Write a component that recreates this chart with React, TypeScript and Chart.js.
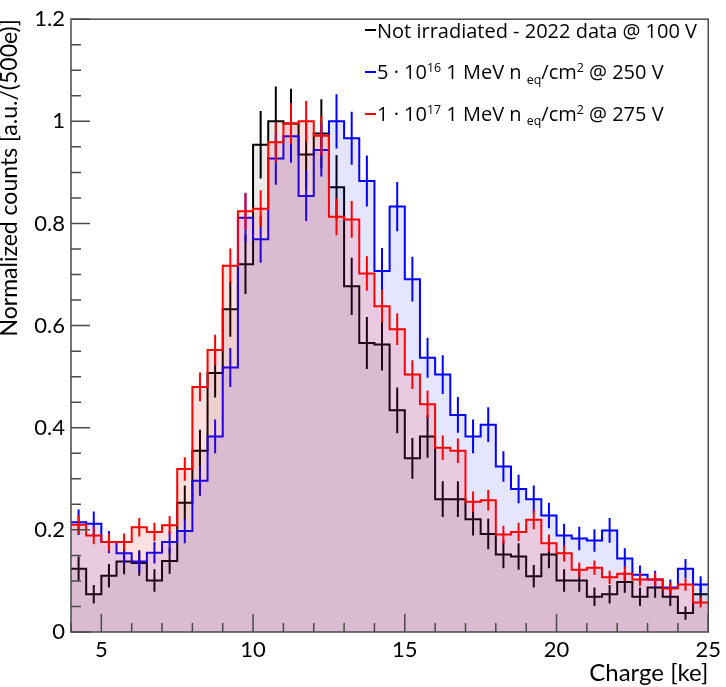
import { useEffect, useRef } from 'react';
import { Chart, registerables } from 'chart.js';
import type { Plugin } from 'chart.js';

Chart.register(...registerables);

// bin edges in ke (500 e bins)
const BIN_EDGES = [
  4, 4.5, 5, 5.5, 6, 6.5, 7, 7.5, 8, 8.5, 9, 9.5, 10, 10.5, 11, 11.5, 12, 12.5, 13, 13.5, 14, 14.5,
  15, 15.5, 16, 16.5, 17, 17.5, 18, 18.5, 19, 19.5, 20, 20.5, 21, 21.5, 22, 22.5, 23, 23.5, 24, 24.5, 25,
];

const notIrradiated = [
  0.124, 0.074, 0.110, 0.138, 0.135, 0.101, 0.139, 0.253, 0.355, 0.507, 0.632, 0.720, 0.954, 1.0,
  0.996, 0.935, 0.976, 0.871, 0.677, 0.566, 0.563, 0.434, 0.340, 0.383, 0.260, 0.260, 0.221, 0.192,
  0.152, 0.148, 0.109, 0.152, 0.101, 0.101, 0.069, 0.074, 0.098, 0.069, 0.087, 0.069, 0.037, 0.074,
];
const notIrradiatedErr = [
  0.024, 0.018, 0.023, 0.025, 0.025, 0.022, 0.025, 0.034, 0.041, 0.048, 0.054, 0.058, 0.066, 0.068,
  0.068, 0.066, 0.067, 0.063, 0.056, 0.051, 0.051, 0.045, 0.040, 0.042, 0.035, 0.035, 0.032, 0.030,
  0.027, 0.026, 0.022, 0.027, 0.022, 0.022, 0.018, 0.018, 0.021, 0.018, 0.020, 0.018, 0.013, 0.018,
];

const fluence5e16 = [
  0.215, 0.212, 0.176, 0.154, 0.138, 0.155, 0.176, 0.198, 0.296, 0.383, 0.518, 0.811, 0.769, 0.927,
  0.971, 0.854, 0.944, 1.0, 0.967, 0.883, 0.707, 0.833, 0.691, 0.537, 0.504, 0.425, 0.383, 0.406,
  0.324, 0.280, 0.260, 0.228, 0.189, 0.183, 0.179, 0.199, 0.144, 0.112, 0.103, 0.087, 0.124, 0.093,
];
const fluence5e16Err = [
  0.025, 0.024, 0.022, 0.021, 0.020, 0.021, 0.022, 0.024, 0.029, 0.033, 0.038, 0.048, 0.046, 0.051,
  0.052, 0.049, 0.052, 0.053, 0.052, 0.050, 0.045, 0.048, 0.044, 0.039, 0.038, 0.035, 0.033, 0.034,
  0.030, 0.028, 0.027, 0.025, 0.023, 0.023, 0.022, 0.024, 0.020, 0.018, 0.017, 0.016, 0.019, 0.016,
];

const fluence1e17 = [
  0.210, 0.189, 0.176, 0.176, 0.205, 0.196, 0.209, 0.319, 0.480, 0.552, 0.717, 0.824, 0.829, 0.959,
  0.996, 1.0, 0.972, 0.813, 0.808, 0.702, 0.638, 0.593, 0.504, 0.446, 0.361, 0.355, 0.255, 0.258,
  0.191, 0.196, 0.220, 0.174, 0.154, 0.122, 0.126, 0.107, 0.114, 0.103, 0.103, 0.085, 0.093, 0.058,
];
const fluence1e17Err = [
  0.018, 0.017, 0.017, 0.017, 0.018, 0.018, 0.018, 0.023, 0.028, 0.030, 0.034, 0.036, 0.036, 0.039,
  0.040, 0.040, 0.039, 0.036, 0.036, 0.034, 0.032, 0.031, 0.028, 0.027, 0.024, 0.024, 0.020, 0.020,
  0.017, 0.018, 0.019, 0.017, 0.016, 0.014, 0.014, 0.013, 0.014, 0.013, 0.013, 0.012, 0.012, 0.010,
];

const X_MAJOR = [5, 10, 15, 20, 25];
const X_MINOR = [
  4, 5, 6, 7, 8, 9, 10, 11, 12, 13, 14, 15, 16, 17, 18, 19, 20, 21, 22, 23, 24, 25,
];
const Y_MAJOR = [0, 0.2, 0.4, 0.6, 0.8, 1, 1.2];
const Y_MINOR = [
  0, 0.05, 0.1, 0.15, 0.2, 0.25, 0.3, 0.35, 0.4, 0.45, 0.5, 0.55, 0.6, 0.65, 0.7, 0.75, 0.8, 0.85,
  0.9, 0.95, 1, 1.05, 1.1, 1.15, 1.2,
];

const FONT = 'Lato';
const LEGEND_FONT = '"Open Sans"';

// histogram outline: value of each bin held from its left edge, closing point at the last edge
function stepPoints(values: number[]) {
  const pts = values.map((v, i) => ({ x: BIN_EDGES[i], y: v }));
  pts.push({ x: BIN_EDGES[values.length], y: values[values.length - 1] });
  return pts;
}

function errorPoints(values: number[], errs: number[]) {
  const pts: { x: number; y: number | null }[] = [];
  values.forEach((v, i) => {
    const c = (BIN_EDGES[i] + BIN_EDGES[i + 1]) / 2;
    pts.push({ x: c, y: v - errs[i] }, { x: c, y: v + errs[i] }, { x: c, y: null });
  });
  return pts;
}

// ROOT-like frame with inward ticks
const rootFrame: Plugin<'line'> = {
  id: 'rootFrame',
  afterDatasetsDraw(chart) {
    const { ctx, chartArea: a } = chart;
    const xs = chart.scales.x;
    const ys = chart.scales.y;
    ctx.save();
    ctx.strokeStyle = '#4a4a4a';
    ctx.lineWidth = 1.5;
    ctx.beginPath();
    X_MINOR.forEach((v) => {
      const px = xs.getPixelForValue(v);
      const len = X_MAJOR.includes(v) ? 18 : 9;
      ctx.moveTo(px, a.bottom);
      ctx.lineTo(px, a.bottom - len);
    });
    Y_MINOR.forEach((v) => {
      const py = ys.getPixelForValue(v);
      const len = Y_MAJOR.some((m) => Math.abs(m - v) < 1e-6) ? 19 : 10;
      ctx.moveTo(a.left, py);
      ctx.lineTo(a.left + len, py);
    });
    ctx.stroke();
    ctx.strokeRect(a.left, a.top, a.right - a.left, a.bottom - a.top);
    ctx.restore();
  },
};

function ChargeChart() {
  const canvasRef = useRef<HTMLCanvasElement>(null);
  const chartRef = useRef<Chart | null>(null);

  useEffect(() => {
    if (!canvasRef.current) return;
    if (chartRef.current) chartRef.current.destroy();

    const series = [
      { label: 'Not irradiated', values: notIrradiated, errs: notIrradiatedErr, color: '#000000', fill: 'rgba(0,0,0,0.08)', order: 2 },
      { label: '5e16', values: fluence5e16, errs: fluence5e16Err, color: '#0000ff', fill: 'rgba(0,0,255,0.1)', order: 1 },
      { label: '1e17', values: fluence1e17, errs: fluence1e17Err, color: '#ff0000', fill: 'rgba(255,0,0,0.12)', order: 0 },
    ];

    const datasets: any[] = [];
    series.forEach((s) => {
      datasets.push({
        label: s.label,
        data: stepPoints(s.values),
        stepped: 'before',
        borderColor: s.color,
        borderWidth: 2,
        backgroundColor: s.fill,
        fill: 'origin',
        pointRadius: 0,
        order: s.order,
      });
      datasets.push({
        label: s.label + ' err',
        data: errorPoints(s.values, s.errs),
        borderColor: s.color,
        borderWidth: 2,
        fill: false,
        pointRadius: 0,
        spanGaps: false,
        order: s.order,
      });
    });

    chartRef.current = new Chart(canvasRef.current, {
      type: 'line',
      data: { datasets },
      plugins: [rootFrame],
      options: {
        responsive: false,
        animation: false,
        layout: { padding: { top: 8, right: 12, left: 0, bottom: 0 } },
        plugins: {
          legend: { display: false },
          tooltip: { enabled: false },
        },
        scales: {
          x: {
            type: 'linear',
            min: 4,
            max: 25,
            grid: { display: false, drawTicks: false },
            border: { display: false },
            afterBuildTicks: (scale) => {
              scale.ticks = X_MAJOR.map((v) => ({ value: v }));
            },
            afterFit: (scale) => {
              scale.height = 55;
            },
            ticks: {
              color: '#000',
              padding: 5,
              maxRotation: 0,
              autoSkip: false,
              font: { family: FONT, size: 22 },
              callback: (v) => String(v),
            },
            title: {
              display: true,
              text: 'Charge [ke]',
              align: 'end',
              color: '#000',
              padding: { top: 0, bottom: -1 },
              font: { family: FONT, size: 24 },
            },
          },
          y: {
            min: 0,
            max: 1.2,
            grid: { display: false, drawTicks: false },
            border: { display: false },
            afterBuildTicks: (scale) => {
              scale.ticks = Y_MAJOR.map((v) => ({ value: v }));
            },
            afterFit: (scale) => {
              scale.width = 71;
            },
            ticks: {
              color: '#000',
              padding: 6,
              autoSkip: false,
              font: { family: FONT, size: 22 },
              callback: (v) => String(Number(Number(v).toFixed(1))),
            },
            title: {
              display: true,
              text: 'Normalized counts [a.u./(500e)]',
              align: 'end',
              color: '#000',
              padding: { top: -4, bottom: 0 },
              font: { family: FONT, size: 23 },
            },
          },
        },
      },
    });

    return () => {
      if (chartRef.current) {
        chartRef.current.destroy();
        chartRef.current = null;
      }
    };
  }, []);

  return <canvas ref={canvasRef} width={726} height={687} style={{ display: 'block' }} />;
}

const sup = { fontSize: '0.62em', position: 'relative' as const, top: '-0.55em' };
const sub = { fontSize: '0.62em', position: 'relative' as const, top: '0.35em' };

function Marker({ color }: { color: string }) {
  return (
    <span
      style={{
        display: 'inline-block',
        width: 11,
        height: 2,
        background: color,
        verticalAlign: 'middle',
        marginRight: 1,
        position: 'relative',
        top: -2,
      }}
    />
  );
}

function Legend() {
  const row = (top: number) => ({
    position: 'absolute' as const,
    left: 365,
    top,
    whiteSpace: 'nowrap' as const,
    fontFamily: LEGEND_FONT,
    fontSize: 20,
    lineHeight: '28px',
    color: '#000',
  });
  return (
    <>
      <div style={row(16.6)}>
        <Marker color="#000000" />
        Not irradiated - 2022 data @ 100 V
      </div>
      <div style={row(58.2)}>
        <Marker color="#0000ff" />5 · 10<span style={sup}>16</span> 1 MeV n <span style={sub}>eq</span>/cm
        <span style={sup}>2</span> @ 250 V
      </div>
      <div style={row(99.9)}>
        <Marker color="#ff0000" />1 · 10<span style={sup}>17</span> 1 MeV n <span style={sub}>eq</span>/cm
        <span style={sup}>2</span> @ 275 V
      </div>
    </>
  );
}

export default function App() {
  useEffect(() => {
    document.body.style.margin = '0';
  }, []);
  return (
    <div style={{ position: 'relative', width: 726, height: 687, background: '#fff' }}>
      <ChargeChart />
      <Legend />
    </div>
  );
}
